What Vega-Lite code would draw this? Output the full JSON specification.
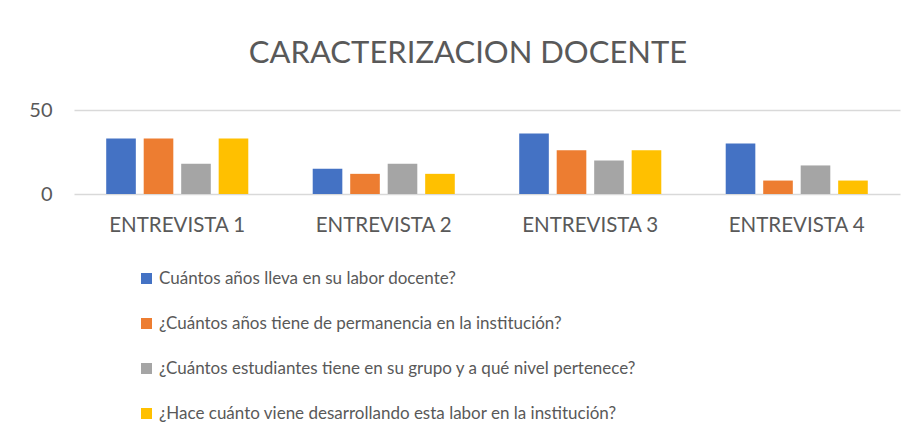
{
  "$schema": "https://vega.github.io/schema/vega-lite/v6.json",
  "autosize": "none",
  "width": 826,
  "height": 84,
  "padding": {"top": 110, "left": 74, "right": 16, "bottom": 249},
  "background": "white",
  "title": {
    "text": "CARACTERIZACION DOCENTE",
    "font": "Lato",
    "fontSize": 31,
    "fontWeight": "normal",
    "color": "#595959",
    "anchor": "middle",
    "frame": "group",
    "dx": -19,
    "baseline": "alphabetic",
    "offset": 6
  },
  "data": {
    "values": [
      {"entrevista": "ENTREVISTA 1", "pregunta": "Cuántos años lleva en su labor docente?", "valor": 33},
      {"entrevista": "ENTREVISTA 1", "pregunta": "¿Cuántos años tiene de permanencia en la institución?", "valor": 33},
      {"entrevista": "ENTREVISTA 1", "pregunta": "¿Cuántos estudiantes tiene en su grupo y a qué nivel pertenece?", "valor": 18},
      {"entrevista": "ENTREVISTA 1", "pregunta": "¿Hace cuánto viene desarrollando esta labor en la institución?", "valor": 33},
      {"entrevista": "ENTREVISTA 2", "pregunta": "Cuántos años lleva en su labor docente?", "valor": 15},
      {"entrevista": "ENTREVISTA 2", "pregunta": "¿Cuántos años tiene de permanencia en la institución?", "valor": 12},
      {"entrevista": "ENTREVISTA 2", "pregunta": "¿Cuántos estudiantes tiene en su grupo y a qué nivel pertenece?", "valor": 18},
      {"entrevista": "ENTREVISTA 2", "pregunta": "¿Hace cuánto viene desarrollando esta labor en la institución?", "valor": 12},
      {"entrevista": "ENTREVISTA 3", "pregunta": "Cuántos años lleva en su labor docente?", "valor": 36},
      {"entrevista": "ENTREVISTA 3", "pregunta": "¿Cuántos años tiene de permanencia en la institución?", "valor": 26},
      {"entrevista": "ENTREVISTA 3", "pregunta": "¿Cuántos estudiantes tiene en su grupo y a qué nivel pertenece?", "valor": 20},
      {"entrevista": "ENTREVISTA 3", "pregunta": "¿Hace cuánto viene desarrollando esta labor en la institución?", "valor": 26},
      {"entrevista": "ENTREVISTA 4", "pregunta": "Cuántos años lleva en su labor docente?", "valor": 30},
      {"entrevista": "ENTREVISTA 4", "pregunta": "¿Cuántos años tiene de permanencia en la institución?", "valor": 8},
      {"entrevista": "ENTREVISTA 4", "pregunta": "¿Cuántos estudiantes tiene en su grupo y a qué nivel pertenece?", "valor": 17},
      {"entrevista": "ENTREVISTA 4", "pregunta": "¿Hace cuánto viene desarrollando esta labor en la institución?", "valor": 8}
    ]
  },
  "mark": {"type": "bar"},
  "encoding": {
    "x": {
      "field": "entrevista",
      "type": "nominal",
      "sort": null,
      "scale": {"paddingInner": 0.312, "paddingOuter": 0.156},
      "axis": {
        "title": null,
        "labelAngle": 0,
        "labelFont": "Lato",
        "labelFontSize": 20.5,
        "labelColor": "#595959",
        "labelPadding": 21,
        "ticks": false,
        "domain": false
      }
    },
    "xOffset": {
      "field": "pregunta",
      "type": "nominal",
      "sort": null,
      "scale": {"paddingInner": 0.21, "paddingOuter": 0}
    },
    "y": {
      "field": "valor",
      "type": "quantitative",
      "scale": {"domain": [0, 50], "nice": false},
      "axis": {
        "title": null,
        "values": [0, 50],
        "labelFont": "Lato",
        "labelFontSize": 20,
        "labelColor": "#595959",
        "labelPadding": 22,
        "ticks": false,
        "domain": false,
        "gridColor": "#d9d9d9",
        "gridWidth": 1.5
      }
    },
    "color": {
      "field": "pregunta",
      "type": "nominal",
      "scale": {
        "domain": [
          "Cuántos años lleva en su labor docente?",
          "¿Cuántos años tiene de permanencia en la institución?",
          "¿Cuántos estudiantes tiene en su grupo y a qué nivel pertenece?",
          "¿Hace cuánto viene desarrollando esta labor en la institución?"
        ],
        "range": ["#4472C4", "#ED7D31", "#A5A5A5", "#FFC000"]
      },
      "legend": {
        "title": null,
        "orient": "none",
        "legendX": 64,
        "legendY": 160,
        "direction": "vertical",
        "symbolType": "square",
        "symbolSize": 121,
        "symbolStrokeWidth": 0,
        "symbolOpacity": 1,
        "labelFont": "Lato",
        "labelFontSize": 17,
        "labelColor": "#595959",
        "labelOffset": 4,
        "labelLimit": 800,
        "rowPadding": 27
      }
    }
  },
  "config": {
    "view": {"stroke": null}
  }
}
